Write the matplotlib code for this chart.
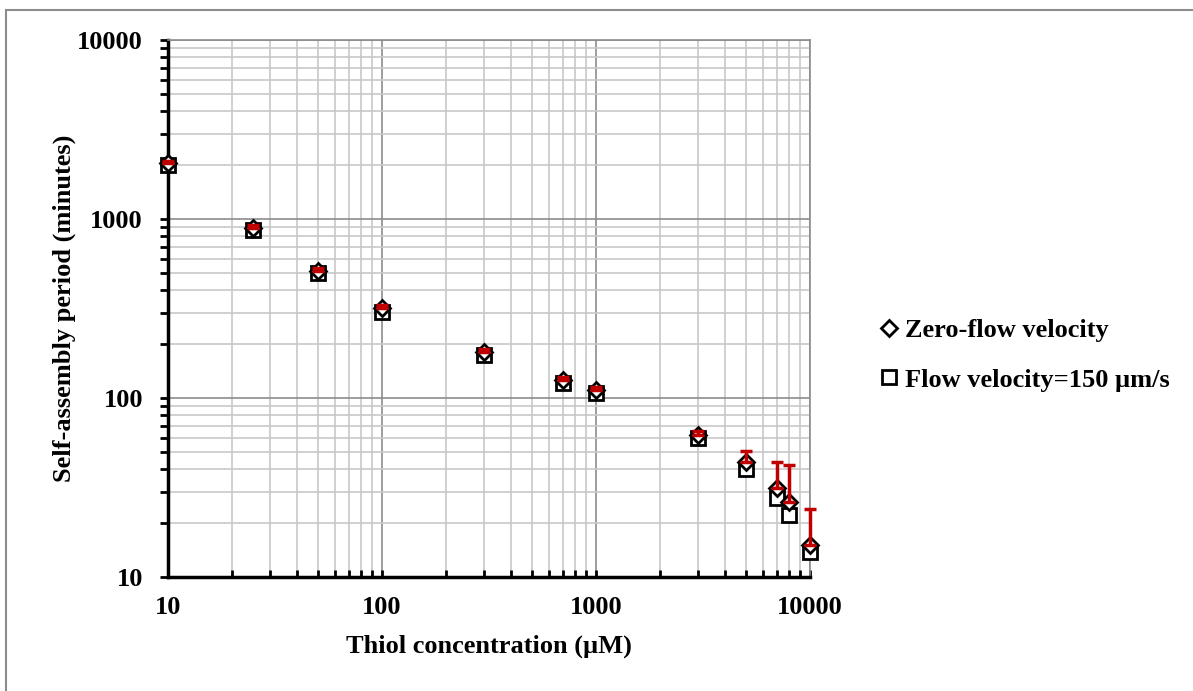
import matplotlib
matplotlib.use("Agg")
import matplotlib.pyplot as plt
from matplotlib.ticker import LogLocator, NullFormatter, FixedLocator
from matplotlib.patches import Rectangle
import numpy as np

plt.rcParams['font.family'] = ['Liberation Serif', 'DejaVu Serif']
plt.rcParams['font.weight'] = 'bold'

# data
conc = [10, 25, 50, 100, 300, 700, 1000, 3000, 5000, 7000, 8000, 10000]
zero_flow = [2050, 890, 515, 320, 181, 126, 111, 62, 43.9, 31.4, 26.2, 15.1]
zero_flow_err = [60, 30, 20, 12, 6, 5, 4, 3, 6.7, 12.5, 15.8, 9.0]
flow_150 = [2000, 865, 500, 302, 174, 122, 106, 60, 40.3, 27.6, 22.2, 13.8]

x_ticks = [10, 100, 1000, 10000]
y_ticks = [10, 100, 1000, 10000]
label_zero = "Zero-flow velocity"
label_flow = "Flow velocity=150 \u00b5m/s"

fig = plt.figure(figsize=(11.93, 6.91), dpi=100)
fig.patches.append(Rectangle((6 / 1193, -0.1), 1.2, 1 - 10 / 691 + 0.1,
                             transform=fig.transFigure, fill=False,
                             edgecolor='#8c8c8c', linewidth=1.5))
ax = fig.add_axes([168 / 1193, 1 - 577 / 691, 642 / 1193, 537 / 691])
ax.set_xscale('log')
ax.set_yscale('log')
ax.set_xlim(10, 10000)
ax.set_ylim(10, 10000)

ax.grid(True, which='major', color='#8c8c8c', linewidth=1.2, zorder=0)
ax.grid(True, which='minor', color='#c8c8c8', linewidth=1.2, zorder=0)
ax.set_axisbelow(True)

sq, = ax.plot(conc, flow_150, linestyle='none', marker='s', markersize=9.5,
              markerfacecolor='white', markeredgecolor='black',
              markeredgewidth=2, zorder=3, label=label_flow, clip_on=False)
dm, = ax.plot(conc, zero_flow, linestyle='none', marker='D', markersize=8,
              markerfacecolor='white', markeredgecolor='black',
              markeredgewidth=2, zorder=3.5, label=label_zero, clip_on=False)
eb = ax.errorbar(conc, zero_flow, yerr=[np.zeros(len(conc)), zero_flow_err],
                 fmt='none', ecolor='#c00000', elinewidth=2.5, capsize=4.5,
                 capthick=2.5, zorder=4)
for art in eb.lines[1] + eb.lines[2]:
    art.set_clip_on(False)

ax.xaxis.set_major_locator(FixedLocator(x_ticks))
ax.yaxis.set_major_locator(FixedLocator(y_ticks))
ax.set_xticklabels([str(t) for t in x_ticks])
ax.set_yticklabels([str(t) for t in y_ticks])
ax.xaxis.set_minor_locator(LogLocator(base=10, subs=np.arange(2, 10)))
ax.yaxis.set_minor_locator(LogLocator(base=10, subs=np.arange(2, 10)))
ax.xaxis.set_minor_formatter(NullFormatter())
ax.yaxis.set_minor_formatter(NullFormatter())

ax.tick_params(axis='x', which='both', direction='in', length=5, width=2,
               labelsize=19, pad=14)
ax.tick_params(axis='y', which='both', direction='out', length=6, width=2,
               labelsize=19, pad=12)
for lab in ax.get_xticklabels() + ax.get_yticklabels():
    lab.set_fontweight('bold')

for side in ['left', 'bottom']:
    ax.spines[side].set_linewidth(2.5)
    ax.spines[side].set_color('black')
for side in ['top', 'right']:
    ax.spines[side].set_color('#8c8c8c')
    ax.spines[side].set_linewidth(1.2)

ax.set_xlabel("Thiol concentration (\u00b5M)", fontsize=19, fontweight='bold',
              labelpad=11)
ax.set_ylabel("Self-assembly period (minutes)", fontsize=19, fontweight='bold',
              labelpad=1)

leg = fig.legend(handles=[dm, sq], loc='center left',
                 bbox_to_anchor=(856 / 1193, 1 - 355 / 691), frameon=False,
                 handlelength=0.7, handletextpad=0.25, labelspacing=1.0,
                 prop={'size': 19, 'weight': 'bold'})

fig.savefig("out.png", dpi=100)
